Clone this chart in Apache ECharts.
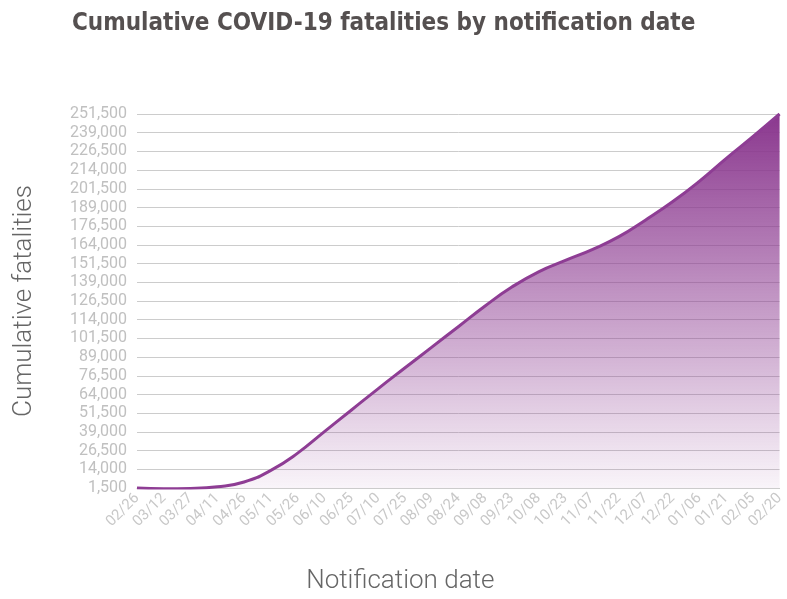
<!DOCTYPE html>
<html>
<head>
<meta charset="utf-8">
<script src="https://cdn.jsdelivr.net/npm/echarts@6/dist/echarts.min.js"></script>
<style>
html,body{margin:0;padding:0;background:#fff;}
#chart{width:787px;height:599px;}
</style>
</head>
<body>
<div id="chart"></div>
<script>
const dates = ["02/26","03/12","03/27","04/11","04/26","05/11","05/26","06/10","06/25","07/10","07/25","08/09","08/24","09/08","09/23","10/08","10/23","11/07","11/22","12/07","12/22","01/06","01/21","02/05","02/20"];
const fatalities = [1500,1000,1200,2300,5500,13300,24800,39200,53500,67800,81700,95500,109300,123200,135800,146000,153600,160900,169500,180700,192800,206500,221700,236300,251500];
const yMin = 1500, yMax = 251500, yStep = 12500;

const chart = echarts.init(document.getElementById('chart'));
chart.setOption({
  animation: false,
  title: {
    text: 'Cumulative COVID-19 fatalities by notification date',
    left: 67, top: 7,
    textStyle: {fontFamily: "'DejaVu Sans Condensed', 'Liberation Sans Narrow', 'Roboto', sans-serif", fontWeight: 'bold', fontSize: 24, color: '#555050'}
  },
  grid: {left: 137, right: 1, top: 114, bottom: 107},
  xAxis: {
    type: 'category', data: dates, boundaryGap: false,
    name: 'Notification date', nameLocation: 'middle', nameGap: 80,
    nameTextStyle: {fontFamily: 'Roboto', fontWeight: 300, fontSize: 26, color: '#666', padding: [0, 116, 0, 0]},
    axisLine: {lineStyle: {color: '#ccc'}},
    axisTick: {show: false},
    axisLabel: {interval: 0, rotate: 45, fontFamily: 'Roboto', fontSize: 15, color: '#c8c8c8', margin: 8}
  },
  yAxis: {
    type: 'value', min: yMin, max: yMax, interval: yStep,
    name: 'Cumulative fatalities', nameLocation: 'middle', nameGap: 100,
    nameTextStyle: {fontFamily: 'Roboto', fontWeight: 300, fontSize: 26, color: '#666'},
    axisLine: {show: false}, axisTick: {show: false},
    splitLine: {lineStyle: {color: '#cccccc', width: 1}},
    axisLabel: {fontFamily: 'Roboto', fontSize: 16, color: '#c0c0c0', margin: 10,
      formatter: v => v.toLocaleString('en-US')}
  },
  series: [{
    type: 'line', data: fatalities, smooth: true, symbol: 'none',
    lineStyle: {color: '#8e3d94', width: 3},
    areaStyle: {opacity: 1, color: new echarts.graphic.LinearGradient(0,0,0,1,[
      {offset: 0, color: 'rgba(138,55,142,1)'},
      {offset: 1, color: 'rgba(142,61,147,0.05)'}
    ])}
  }]
});
</script>
</body>
</html>
